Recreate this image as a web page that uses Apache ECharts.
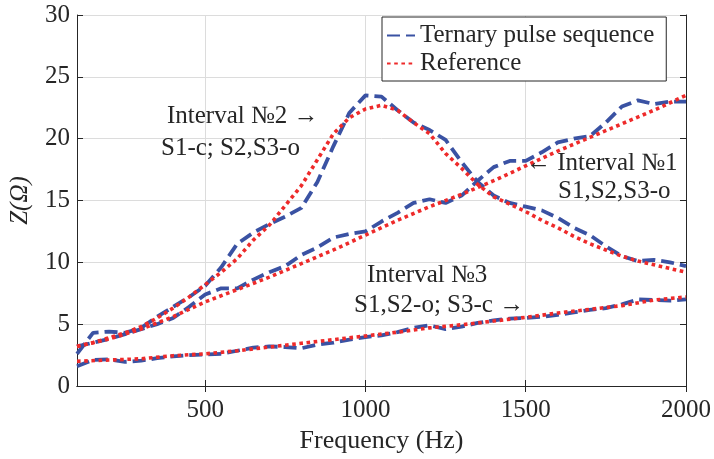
<!DOCTYPE html>
<html>
<head>
<meta charset="utf-8">
<script src="https://cdn.jsdelivr.net/npm/echarts@6/dist/echarts.min.js"></script>
<style>
  html, body { margin: 0; padding: 0; background: #fff; }
  #chart { width: 714px; height: 459px; }
</style>
</head>
<body>
<div id="chart"></div>
<script>
// Frequency grids (Hz)
const freqFine = [100,150,200,250,300,350,400,450,500,550,600,650,700,750,800,850,900,950,1000,1050,
                  1100,1150,1200,1250,1300,1350,1400,1450,1500,1550,1600,1650,1700,1750,1800,1850,1900,1950,2000];
const freqCoarse = [100,200,300,400,500,600,700,800,900,1000,1100,1200,1300,1400,1500,1600,1700,1800,1900,2000];

// Ternary pulse sequence, impedance |Z| in ohms (on freqFine)
const ternaryInt1 = [3.2,3.5,3.8,4.2,4.6,5.0,5.5,6.4,7.4,7.9,7.9,8.6,9.2,9.7,10.6,11.2,12.0,12.3,12.5,13.3,
                     14.0,14.8,15.1,14.8,15.4,16.6,17.7,18.2,18.2,18.9,19.7,20.0,20.2,21.3,22.6,23.1,22.8,23.0,23.0];
const ternaryInt2 = [2.6,4.3,4.4,4.3,4.7,5.6,6.4,7.2,8.1,9.6,11.5,12.4,13.1,13.7,14.4,16.5,19.4,22.1,23.5,23.4,
                     22.3,21.3,20.7,19.9,18.1,16.5,15.4,14.8,14.5,14.2,13.6,12.8,12.2,11.3,10.5,10.1,10.2,10.0,9.7];
const ternaryInt3 = [1.6,2.1,2.15,1.95,2.05,2.25,2.4,2.5,2.55,2.6,2.85,3.1,3.2,3.15,3.05,3.35,3.5,3.75,3.95,4.1,
                     4.35,4.7,4.9,4.6,4.8,5.1,5.3,5.45,5.5,5.6,5.75,5.95,6.15,6.3,6.6,7.0,6.95,6.9,7.0];

// Reference impedance
const refInt1 = [3.2,3.8,4.6,5.6,6.8,7.8,8.8,9.9,11.0,12.2,13.4,14.5,15.5,16.6,17.8,19.0,20.1,21.2,22.3,23.5]; // freqCoarse
const refInt2 = [3.2,3.5,3.9,4.3,4.8,5.5,6.3,7.2,8.2,9.2,10.3,11.8,13.0,14.6,16.2,18.3,20.4,21.7,22.4,22.7,
                 22.3,21.3,20.4,18.8,17.6,16.3,15.3,14.7,14.1,13.4,12.8,12.1,11.5,11.0,10.5,10.1,9.8,9.5,9.2]; // freqFine
const refInt3 = [2.0,2.1,2.2,2.45,2.6,2.85,3.15,3.45,3.75,4.05,4.35,4.7,4.95,5.25,5.55,5.9,6.2,6.5,6.95,7.2]; // freqCoarse

// Axis ticks
const xTicks = [500, 1000, 1500, 2000];
const yTicks = [0, 5, 10, 15, 20, 25, 30];

const FONT = '"Liberation Serif", "Times New Roman", serif';
const TEXT = '#262626';
const BLUE = '#3a52a3';
const RED = '#ee2a2a';

const pairs = (xs, ys) => xs.map((x, i) => [x, ys[i]]);

function ternarySeries(xs, ys) {
  return {
    name: 'Ternary pulse sequence', type: 'line', symbol: 'none', z: 2,
    data: pairs(xs, ys),
    lineStyle: { color: BLUE, width: 3.8, type: [13, 6], cap: 'butt' },
    itemStyle: { color: BLUE }
  };
}
function refSeries(xs, ys) {
  return {
    name: 'Reference', type: 'line', symbol: 'none', z: 3,
    data: pairs(xs, ys),
    lineStyle: { color: RED, width: 3.6, type: [3.6, 3.6], cap: 'butt' },
    itemStyle: { color: RED }
  };
}

const chart = echarts.init(document.getElementById('chart'), null, { renderer: 'canvas' });

const axisLine = { show: true, lineStyle: { color: TEXT, width: 1 } };
const gridLine = { show: true, lineStyle: { color: '#dcdcdc', width: 1 } };
const annFont = '25px "Liberation Serif", serif';

const option = {
  animation: false,
  backgroundColor: '#fff',
  textStyle: { fontFamily: FONT },
  grid: { left: 69, right: 27, top: 15, bottom: 73, containLabel: false },
  legend: {
    data: ['Ternary pulse sequence', 'Reference'],
    orient: 'vertical', left: 382, top: 17,
    itemWidth: 28, itemHeight: 14, itemGap: 3,
    padding: [6, 12, 5, 4],
    borderColor: TEXT, borderWidth: 1, backgroundColor: '#fff',
    itemStyle: { opacity: 0 },
    textStyle: { fontFamily: FONT, fontSize: 25, color: TEXT }
  },
  xAxis: [
    {
      type: 'value', min: 100, max: 2000, position: 'bottom',
      name: 'Frequency (Hz)', nameLocation: 'middle', nameGap: 41,
      nameTextStyle: { fontFamily: FONT, fontSize: 26, color: TEXT },
      axisLine: axisLine,
      axisTick: { show: true, inside: true, length: 6, customValues: xTicks, lineStyle: { color: TEXT } },
      axisLabel: { customValues: xTicks, fontFamily: FONT, fontSize: 25, color: TEXT, margin: 12,
                   formatter: v => String(v) },
      splitLine: gridLine
    },
    {
      type: 'value', min: 100, max: 2000, position: 'top',
      axisLine: axisLine,
      axisTick: { show: true, inside: true, length: 6, customValues: xTicks, lineStyle: { color: TEXT } },
      axisLabel: { show: false },
      splitLine: { show: false }
    }
  ],
  yAxis: [
    {
      type: 'value', min: 0, max: 30, interval: 5, position: 'left',
      name: 'Z(Ω)', nameLocation: 'middle', nameGap: 44,
      nameTextStyle: { fontFamily: FONT, fontSize: 25, fontStyle: 'italic', color: TEXT },
      axisLine: axisLine,
      axisTick: { show: true, inside: true, length: 6, lineStyle: { color: TEXT } },
      axisLabel: { fontFamily: FONT, fontSize: 25, color: TEXT, margin: 7,
                   formatter: v => yTicks.includes(v) ? String(v) : '' },
      splitLine: gridLine
    },
    {
      type: 'value', min: 0, max: 30, interval: 5, position: 'right',
      axisLine: axisLine,
      axisTick: { show: true, inside: true, length: 6, lineStyle: { color: TEXT } },
      axisLabel: { show: false },
      splitLine: { show: false }
    }
  ],
  series: [
    ternarySeries(freqFine, ternaryInt1),
    ternarySeries(freqFine, ternaryInt2),
    ternarySeries(freqFine, ternaryInt3),
    refSeries(freqCoarse, refInt1),
    refSeries(freqFine, refInt2),
    refSeries(freqCoarse, refInt3)
  ],
  graphic: [
    { type: 'text', left: 167, top: 104, z: 10, style: { text: 'Interval №2 →', font: annFont, fill: TEXT } },
    { type: 'text', left: 161, top: 136, z: 10, style: { text: 'S1-c; S2,S3-o', font: annFont, fill: TEXT } },
    { type: 'text', left: 526, top: 151, z: 10, style: { text: '← Interval №1', font: annFont, fill: TEXT } },
    { type: 'text', left: 558, top: 179, z: 10, style: { text: 'S1,S2,S3-o', font: annFont, fill: TEXT } },
    { type: 'text', left: 367, top: 263, z: 10, style: { text: 'Interval №3', font: annFont, fill: TEXT } },
    { type: 'text', left: 354, top: 293, z: 10, style: { text: 'S1,S2-o; S3-c →', font: annFont, fill: TEXT } }
  ]
};

chart.setOption(option);
</script>
</body>
</html>
